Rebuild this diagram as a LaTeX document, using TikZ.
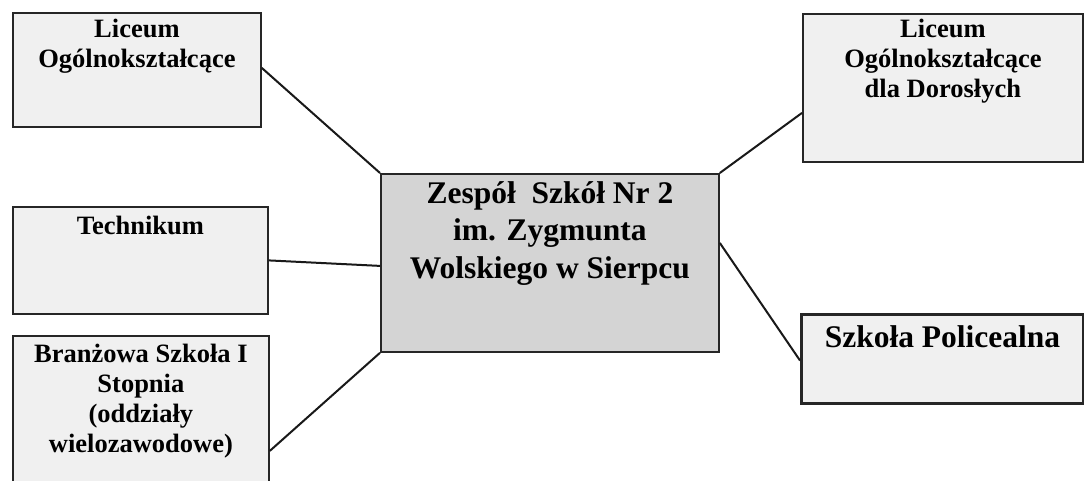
\documentclass[tikz,border=0pt]{standalone}
\usepackage{fontspec}
\setmainfont{Liberation Serif}
\usetikzlibrary{calc}
\begin{document}
\begin{tikzpicture}[x=1pt,y=-1pt,
  box/.style={draw=black!85, line width=1.8pt, fill=black!6, inner sep=0pt, anchor=north west},
  cbox/.style={box, fill=black!17},
  tbox/.style={box, line width=3pt},
  txt/.style={font=\bfseries\fontsize{26.5}{30}\selectfont, align=center, anchor=base, inner sep=0pt},
  bigtxt/.style={txt, font=\bfseries\fontsize{31.5}{37.5}\selectfont},
  conn/.style={draw=black!90, line width=2pt}]
\useasboundingbox[fill=white] (0,0) rectangle (1084,480);
% boxes
\node[box, minimum width=248pt, minimum height=114pt] (lo) at (12,12) {};
\node[box, minimum width=255pt, minimum height=107pt] (tech) at (12,206) {};
\node[box, minimum width=256pt, minimum height=160pt] (br) at (12,335) {};
\node[cbox, minimum width=338pt, minimum height=178pt] (ctr) at (380,173) {};
\node[box, minimum width=280pt, minimum height=148pt] (rt) at (802,13) {};
\node[tbox, minimum width=282pt, minimum height=89pt] (pol) at (800,313) {};
% texts (anchor base = baseline of last line)
\node[txt] (lot) at ($(lo.north)+(0,55)$) {Liceum\\Ogólnokształcące};
\node[txt] (techt) at ($(tech.north)+(0,28)$) {Technikum};
\node[txt] (brt) at ($(br.north)+(0,117)$) {Branżowa Szkoła I\\Stopnia\\(oddziały\\wielozawodowe)};
\node[bigtxt] (ctrt) at ($(ctr.north)+(0,105)$) {Zespół\ \ Szkół Nr 2\\im. Zygmunta\\Wolskiego w Sierpcu};
\node[txt] (rtt) at ($(rt.north)+(0,84)$) {Liceum\\Ogólnokształcące\\dla Dorosłych};
\node[bigtxt] (polt) at ($(pol.north)+(0,34)$) {Szkoła Policealna};
% connectors
\draw[conn] ([yshift=2pt]lo.east) -- (ctr.north west);
\draw[conn] (tech.east) -- ([yshift=-3pt]ctr.west);
\draw[conn] ([yshift=-35pt]br.east) -- (ctr.south west);
\draw[conn] (ctr.north east) -- ([yshift=-25pt]rt.west);
\draw[conn] ([yshift=20pt]ctr.east) -- ([yshift=-1.5pt]pol.west);
\end{tikzpicture}
\end{document}
